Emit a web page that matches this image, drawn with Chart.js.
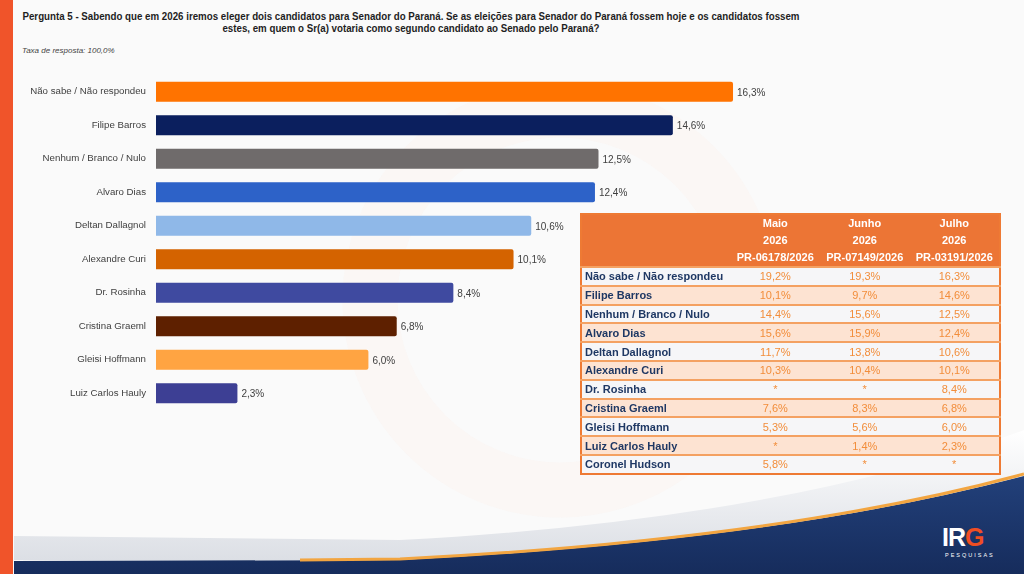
<!DOCTYPE html>
<html lang="pt-BR">
<head>
<meta charset="utf-8">
<script src="https://cdn.jsdelivr.net/npm/chart.js@4"></script>
<style>
  html, body { margin: 0; padding: 0; }
  body { width: 1024px; height: 574px; position: relative; overflow: hidden; background: #fafafa; font-family: "Liberation Sans", Arial, sans-serif; }
  #bg { position: absolute; left: 0; top: 0; }
  #chart { position: absolute; left: 0; top: 0; }
  .title { position: absolute; left: 411px; width: 0; top: 11px; font-weight: bold; font-size: 10.5px; line-height: 11.5px; color: #1e1e1e; }
  .title div { width: max-content; white-space: nowrap; transform: translateX(-50%) scaleX(0.926); transform-origin: center; }
  .sub { position: absolute; left: 22px; top: 46px; font-size: 8px; font-style: italic; color: #444; }
  table { position: absolute; left: 580px; top: 213px; width: 421px; border-collapse: collapse; border: 2px solid #ee7a34; font-size: 11px; }
  th { background: #ec7535; color: #fff; font-weight: bold; height: 17px; padding: 0; line-height: 17px; }
  td { height: 16.8px; padding: 0; line-height: 16px; border-top: 2px solid #f4a162; }
  td.lab { color: #1f3864; font-weight: bold; padding-left: 3px; text-align: left; }
  td.val { color: #f28d3a; text-align: center; }
  tr.odd td { background: #f6f6f8; }
  tr.even td { background: #fde3d2; }
</style>
</head>
<body>
<svg id="bg" width="1024" height="574">
  <defs>
    <linearGradient id="swoosh" x1="0" y1="0" x2="0" y2="1">
      <stop offset="0" stop-color="#ffffff"/>
      <stop offset="1" stop-color="#dcdfe5"/>
    </linearGradient>
    <linearGradient id="navy" x1="0" y1="0" x2="0" y2="1">
      <stop offset="0" stop-color="#22407a"/>
      <stop offset="1" stop-color="#162c5c"/>
    </linearGradient>
  </defs>
  <circle cx="560" cy="300" r="190" fill="none" stroke="#fdf1ec" stroke-width="55" opacity="0.35"/>
  <path d="M14,536 L400,540 Q780,520 1024,430 L1024,476 Q780,541 400,560 L14,560 Z" fill="url(#swoosh)"/>
  <path d="M14,561 L400,560 Q780,541 1024,476 L1024,574 L14,574 Z" fill="url(#navy)"/>
  <path d="M300,560 L400,559 Q780,540 1024,474" fill="none" stroke="#f2a541" stroke-width="3"/>
  <rect x="0" y="0" width="13" height="574" fill="#f0542a"/>
  <text x="942" y="546" font-family="Liberation Sans, Arial" font-weight="bold" font-size="25" fill="#ffffff" letter-spacing="-1">IR<tspan fill="#f04e23">G</tspan></text>
  <text x="945" y="557" font-family="Liberation Sans, Arial" font-size="5.5" fill="#ffffff" letter-spacing="2">PESQUISAS</text>
</svg>

<div class="title">
  <div>Pergunta 5 - Sabendo que em 2026 iremos eleger dois candidatos para Senador do Paraná. Se as eleições para Senador do Paraná fossem hoje e os candidatos fossem</div>
  <div>estes, em quem o Sr(a) votaria como segundo candidato ao Senado pelo Paraná?</div>
</div>
<div class="sub">Taxa de resposta: 100,0%</div>

<canvas id="chart" width="1024" height="574"></canvas>
<table id="tbl"></table>

<script>
// Bar chart data (Julho 2026)
const candidates = ['Não sabe / Não respondeu', 'Filipe Barros', 'Nenhum / Branco / Nulo', 'Alvaro Dias',
  'Deltan Dallagnol', 'Alexandre Curi', 'Dr. Rosinha', 'Cristina Graeml', 'Gleisi Hoffmann', 'Luiz Carlos Hauly'];
const values = [16.3, 14.6, 12.5, 12.4, 10.6, 10.1, 8.4, 6.8, 6.0, 2.3];
const barColors = ['#ff7300', '#0b1f5e', '#6f6b6b', '#2d62c8', '#8fb8e8',
  '#d46300', '#3f4aa0', '#5e2000', '#ffa442', '#3d3f94'];

// Comparison table data (null = not asked "*")
const tableRows = ['Não sabe / Não respondeu', 'Filipe Barros', 'Nenhum / Branco / Nulo', 'Alvaro Dias',
  'Deltan Dallagnol', 'Alexandre Curi', 'Dr. Rosinha', 'Cristina Graeml', 'Gleisi Hoffmann',
  'Luiz Carlos Hauly', 'Coronel Hudson'];
const months = ['Maio', 'Junho', 'Julho'];
const registros = ['PR-06178/2026', 'PR-07149/2026', 'PR-03191/2026'];
const maio = [19.2, 10.1, 14.4, 15.6, 11.7, 10.3, null, 7.6, 5.3, null, 5.8];
const junho = [19.3, 9.7, 15.6, 15.9, 13.8, 10.4, null, 8.3, 5.6, 1.4, null];
const julho = [16.3, 14.6, 12.5, 12.4, 10.6, 10.1, 8.4, 6.8, 6.0, 2.3, null];

const fmt = v => v === null ? '*' : v.toFixed(1).replace('.', ',') + '%';

// build table
const cols = [maio, junho, julho];
let html = '<tr><th style="width:150px"></th>' + months.map(m => '<th style="width:90px">' + m + '</th>').join('') + '</tr>';
html += '<tr><th></th>' + months.map(() => '<th>2026</th>').join('') + '</tr>';
html += '<tr><th></th>' + registros.map(r => '<th>' + r + '</th>').join('') + '</tr>';
tableRows.forEach((name, i) => {
  html += '<tr class="' + (i % 2 ? 'even' : 'odd') + '"><td class="lab">' + name + '</td>' +
    cols.map(c => '<td class="val">' + fmt(c[i]) + '</td>').join('') + '</tr>';
});
document.getElementById('tbl').innerHTML = html;

// value labels at bar ends
const valueLabels = {
  id: 'valueLabels',
  afterDatasetsDraw(chart) {
    const ctx = chart.ctx;
    ctx.save();
    ctx.font = '10px "Liberation Sans", Arial, sans-serif';
    ctx.fillStyle = '#404040';
    ctx.textBaseline = 'middle';
    chart.getDatasetMeta(0).data.forEach((bar, i) => {
      ctx.fillText(fmt(values[i]), bar.x + 4, bar.y + 1);
    });
    ctx.restore();
  }
};

const ctx = document.getElementById('chart').getContext('2d');
new Chart(ctx, {
  type: 'bar',
  data: {
    labels: candidates,
    datasets: [{
      data: values,
      backgroundColor: barColors,
      borderRadius: 2,
      barPercentage: 0.6,
      categoryPercentage: 1
    }]
  },
  options: {
    indexAxis: 'y',
    responsive: false,
    animation: false,
    devicePixelRatio: 1,
    layout: { padding: { top: 75, bottom: 164, left: 0, right: 160 } },
    scales: {
      x: { display: false, min: 0, max: 20 },
      y: {
        afterFit(scale) { scale.width = 156; },
        grid: { display: false },
        border: { display: false },
        ticks: { padding: 2, color: '#404040', font: { size: 9.7, family: '"Liberation Sans", Arial, sans-serif' } }
      }
    },
    plugins: { legend: { display: false }, tooltip: { enabled: false } }
  },
  plugins: [valueLabels]
});
</script>
</body>
</html>
